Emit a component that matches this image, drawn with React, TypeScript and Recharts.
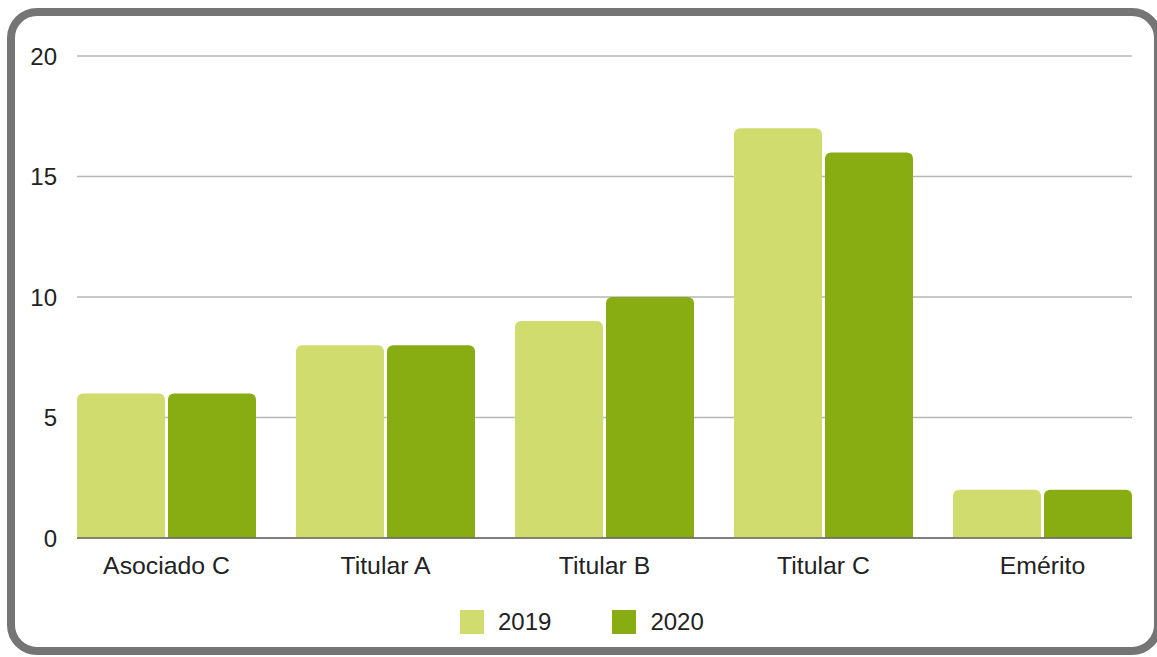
import React from 'react';
import { BarChart, Bar, XAxis, YAxis, CartesianGrid, Legend } from 'recharts';

const categories = ['Asociado C', 'Titular A', 'Titular B', 'Titular C', 'Emérito'];
const values2019 = [6, 8, 9, 17, 2];
const values2020 = [6, 8, 10, 16, 2];
const yTicks = [0, 5, 10, 15, 20];
const seriesNames = ['2019', '2020'];
const seriesColors = ['#d1dc6e', '#87ad12'];

const data = categories.map((c, i) => ({ name: c, s2019: values2019[i], s2020: values2020[i] }));

const FONT = '"Liberation Sans", Arial, sans-serif';

const LegendContent = () => (
  <div style={{ display: 'flex', alignItems: 'center', height: 30, fontFamily: FONT, fontSize: 24, color: '#222' }}>
    {seriesNames.map((n, i) => (
      <div key={n} style={{ display: 'flex', alignItems: 'center', marginRight: i === 0 ? 61 : 0 }}>
        <div style={{ width: 24, height: 24, background: seriesColors[i], marginRight: 14 }} />
        <span style={{ lineHeight: '24px' }}>{n}</span>
      </div>
    ))}
  </div>
);

export default function App() {
  return (
    <div style={{ position: 'fixed', left: 0, top: 0, width: 1157, height: 657, overflow: 'hidden', background: '#fff' }}>
      <div
        style={{
          position: 'absolute',
          left: 7,
          top: 8,
          width: 1155 - 16,
          height: 647 - 16,
          border: '8px solid #757575',
          borderRadius: 30,
        }}
      />
      <div style={{ position: 'absolute', left: 0, top: 0 }}>
        <BarChart
          width={1157}
          height={657}
          data={data}
          margin={{ top: 56, right: 25, left: 0, bottom: 49 }}
          barGap={3}
          barCategoryGap={20}
        >
          <CartesianGrid horizontal vertical={false} stroke="#b7b7b7" strokeWidth={1.3} />
          <XAxis
            dataKey="name"
            height={40}
            padding={{ left: -20, right: -20 }}
            tickLine={false}
            tickSize={6}
            tickMargin={12}
            axisLine={{ stroke: '#666', strokeWidth: 1.5 }}
            tick={{ fill: '#222', fontSize: 24.8, fontFamily: FONT }}
            interval={0}
          />
          <YAxis
            width={77}
            domain={[0, 20]}
            ticks={yTicks}
            axisLine={false}
            tickLine={false}
            tickSize={6}
            tickMargin={14}
            tick={{ fill: '#222', fontSize: 24, fontFamily: FONT }}
          />
          <Legend
            content={<LegendContent />}
            verticalAlign="bottom"
            wrapperStyle={{ left: 460, top: 607, bottom: 'auto', width: 'auto', height: 30 }}
          />
          <Bar dataKey="s2019" name="2019" fill={seriesColors[0]} radius={[6, 6, 0, 0]} isAnimationActive={false} />
          <Bar dataKey="s2020" name="2020" fill={seriesColors[1]} radius={[6, 6, 0, 0]} isAnimationActive={false} />
        </BarChart>
      </div>
    </div>
  );
}
